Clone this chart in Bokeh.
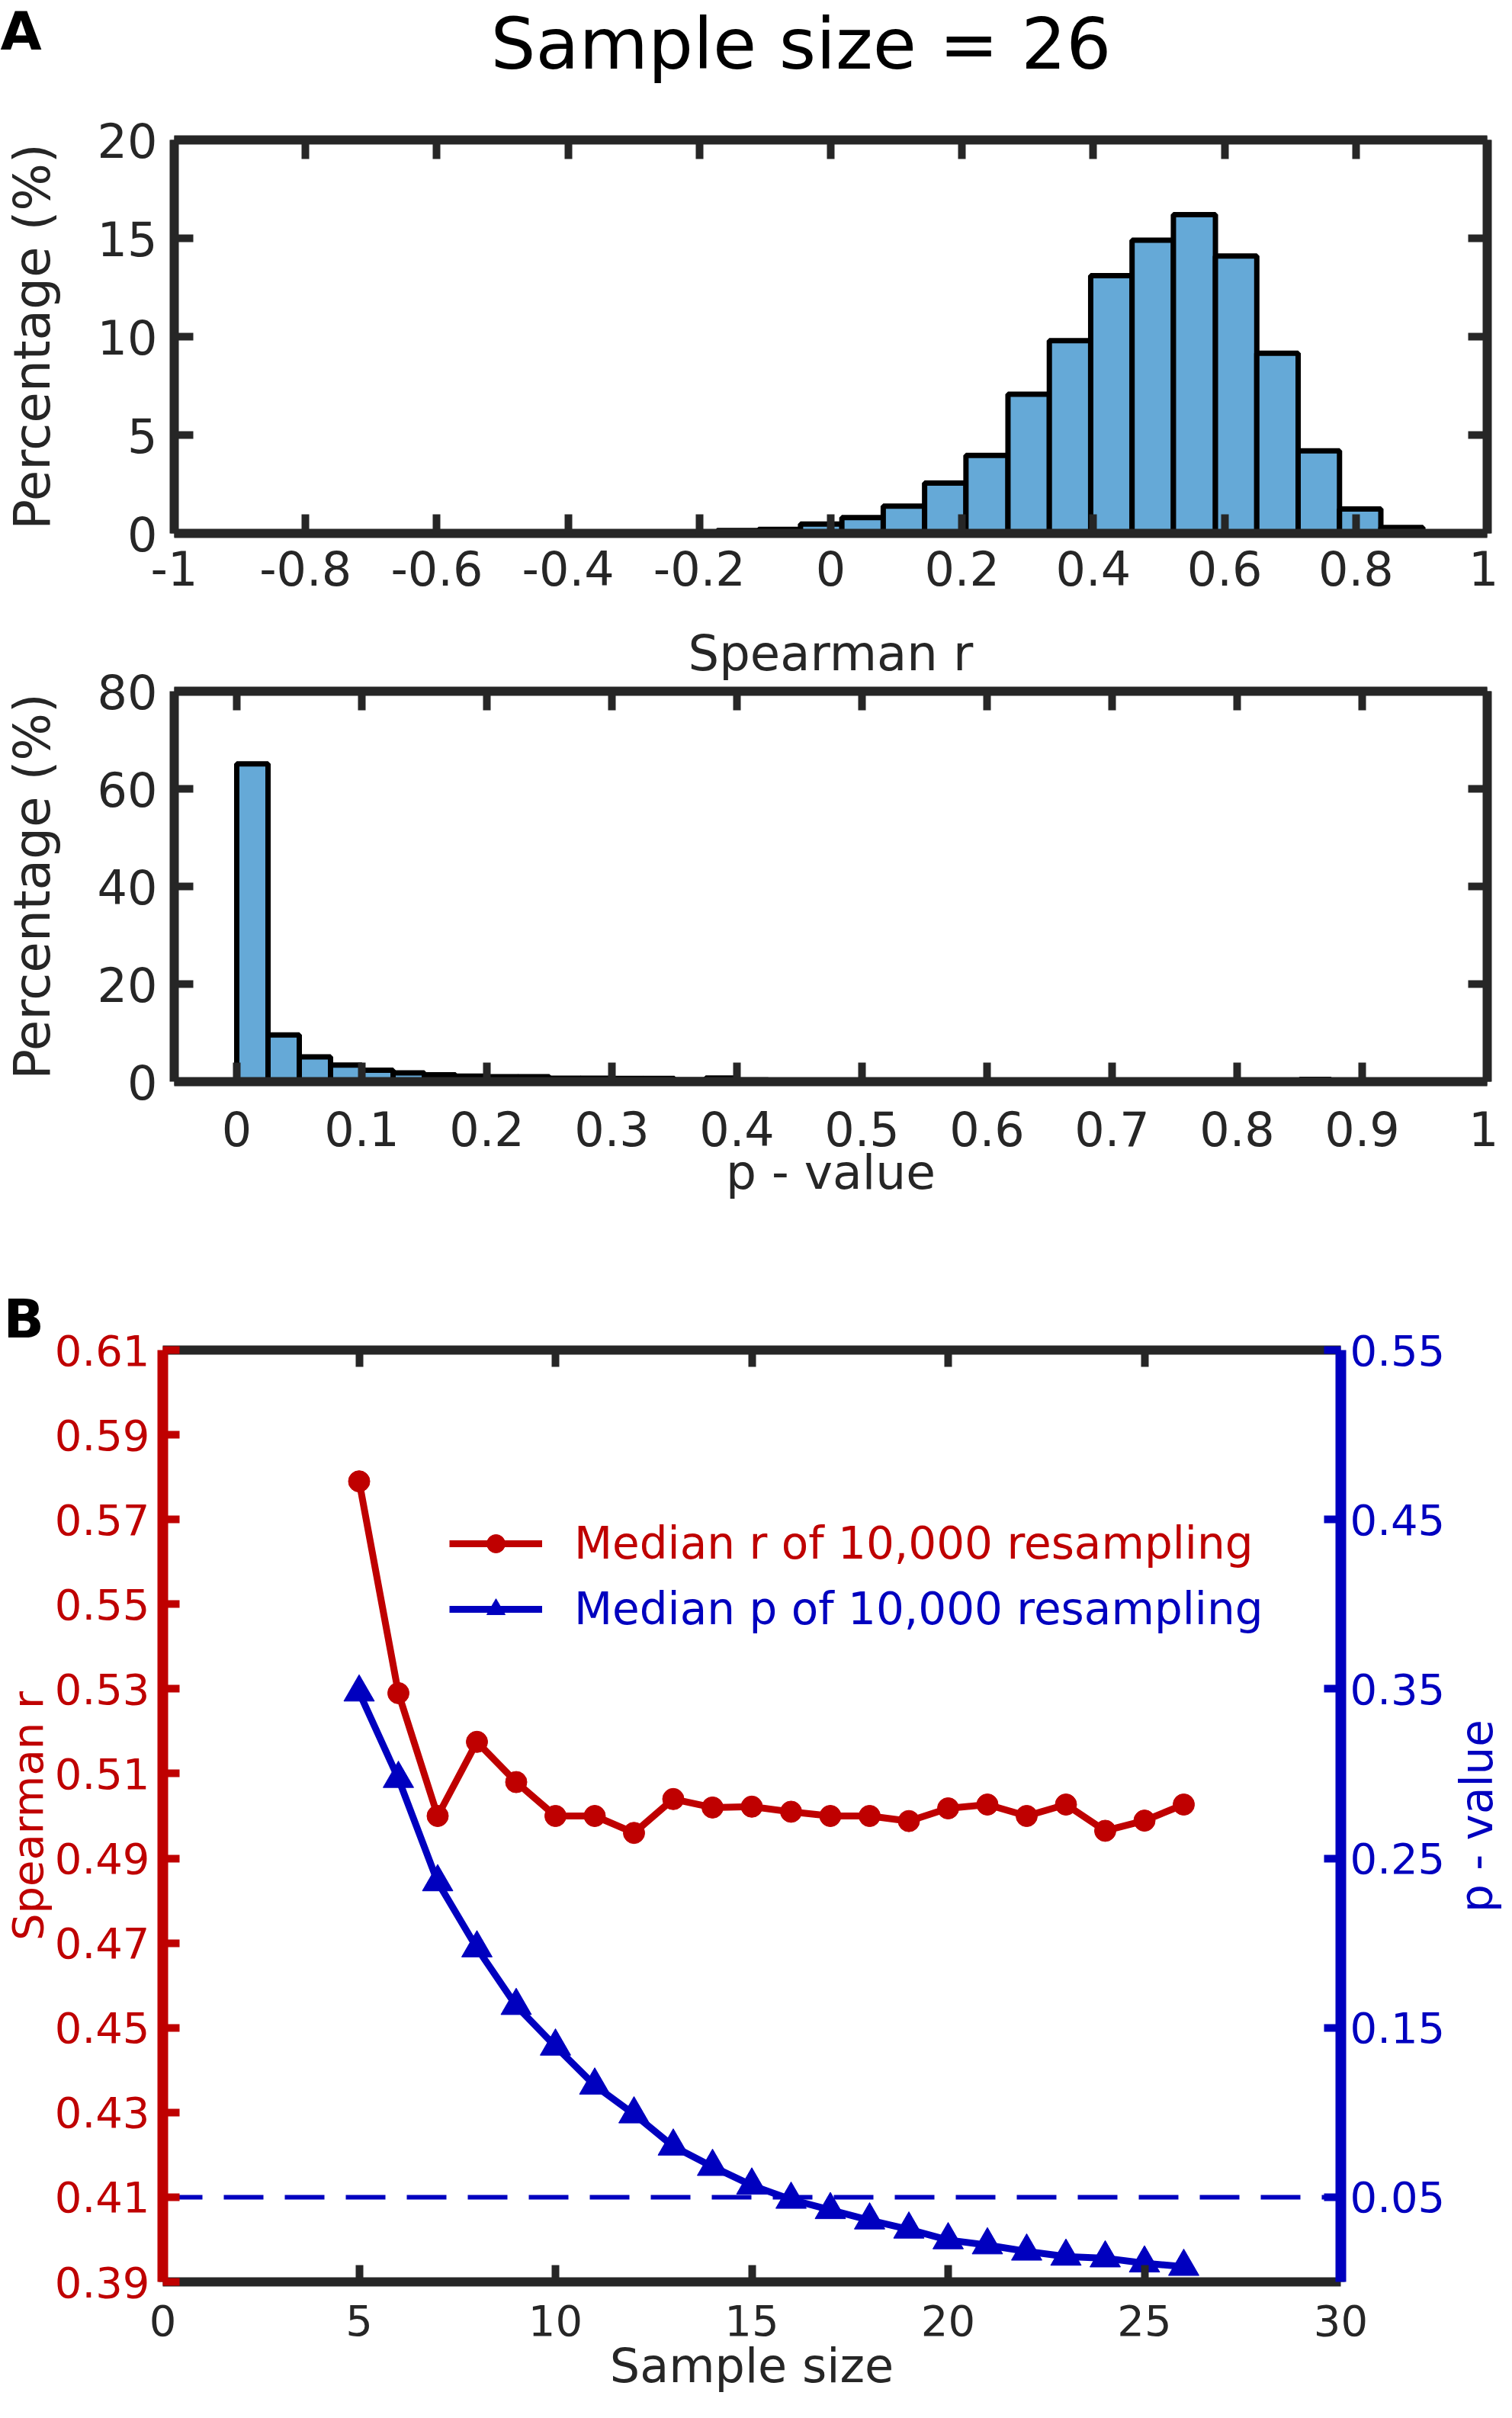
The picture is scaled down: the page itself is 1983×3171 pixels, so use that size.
import math
from bokeh.plotting import figure
from bokeh.models import Range1d, LinearAxis, FixedTicker, Label, Legend, LegendItem, Plot
from bokeh.layouts import column, row
from bokeh.embed import file_html
from bokeh.resources import INLINE

FONT = "DejaVu Sans"
DARK = "#262626"
RED = "#BF0000"
BLUE = "#0000BF"
BAR = "#65A9D7"
NOALIGN = {"frame_align": False} if "frame_align" in Plot.properties() else {}

# ---------------- data ----------------
title_text = "Sample size = 26"
r_edges = [-0.173, -0.110, -0.046, 0.017, 0.080, 0.143, 0.206, 0.270, 0.333,
           0.396, 0.459, 0.522, 0.586, 0.649, 0.712, 0.775, 0.838, 0.902]
r_pct = [0.15, 0.2, 0.47, 0.8, 1.39, 2.56, 3.96, 7.07, 9.8, 13.1, 14.9, 16.2,
         14.1, 9.16, 4.2, 1.24, 0.3]

p_bin_width = 0.025
p_pct = [65.1, 9.56, 5.07, 3.4, 2.35, 1.78, 1.4, 1.15, 1.0, 1.0, 0.7, 0.7,
         0.68, 0.68, 0.4, 0.75, 0.35, 0.3, 0.25, 0.25, 0.2, 0.2, 0.18, 0.18,
         0.15, 0.15, 0.15, 0.13, 0.13, 0.12, 0.12, 0.12, 0.1, 0.1, 0.45, 0.1,
         0.1, 0.08, 0.08, 0.08]
p_edges = [round(i * p_bin_width, 4) for i in range(len(p_pct) + 1)]

sample_size = [5, 6, 7, 8, 9, 10, 11, 12, 13, 14, 15, 16, 17, 18, 19, 20,
               21, 22, 23, 24, 25, 26]
median_r = [0.579, 0.529, 0.500, 0.5175, 0.508, 0.500, 0.500, 0.496, 0.504,
            0.502, 0.5022, 0.501, 0.500, 0.500, 0.4988, 0.5018, 0.5027, 0.500,
            0.5027, 0.4965, 0.4989, 0.5027]
median_p = [0.348, 0.297, 0.236, 0.197, 0.163, 0.139, 0.116, 0.099, 0.080,
            0.068, 0.057, 0.0486, 0.0425, 0.0364, 0.031, 0.0247, 0.0217,
            0.018, 0.015, 0.014, 0.011, 0.009]
alpha_level = 0.05

x1_ticks = [-1, -0.8, -0.6, -0.4, -0.2, 0, 0.2, 0.4, 0.6, 0.8, 1]
y1_ticks = [0, 5, 10, 15, 20]
x2_ticks = [0, 0.1, 0.2, 0.3, 0.4, 0.5, 0.6, 0.7, 0.8, 0.9, 1]
y2_ticks = [0, 20, 40, 60, 80]
xb_ticks = [0, 5, 10, 15, 20, 25, 30]
xb_top_ticks = [5, 10, 15, 20, 25]
rb_ticks = [0.39, 0.41, 0.43, 0.45, 0.47, 0.49, 0.51, 0.53, 0.55, 0.57, 0.59, 0.61]
pb_ticks = [0.05, 0.15, 0.25, 0.35, 0.45, 0.55]


def fmt(v):
    s = ("%.2f" % v).rstrip("0").rstrip(".")
    return "0" if s in ("-0", "") else s


def style_axis(ax, ticks, color, tick_len, tick_w, line_w, size, standoff, labels=True):
    ax.ticker = FixedTicker(ticks=ticks)
    ax.axis_line_color = color
    ax.axis_line_width = line_w
    ax.major_tick_line_color = color
    ax.major_tick_line_width = tick_w
    ax.major_tick_in = tick_len
    ax.major_tick_out = 0
    ax.minor_tick_line_color = None
    ax.major_label_text_font = FONT
    ax.major_label_text_color = color
    if labels:
        ax.major_label_text_font_size = size
        ax.major_label_standoff = standoff
        ax.major_label_overrides = {t: fmt(t) for t in ticks}
    else:
        ax.major_label_text_font_size = "10px"
        ax.major_label_standoff = 0
        ax.major_label_overrides = {t: "" for t in ticks}
    ax.axis_label_text_font = FONT
    ax.axis_label_text_font_style = "normal"


def base_fig(**kw):
    f = figure(output_backend="svg", toolbar_location=None, **NOALIGN, **kw)
    f.xgrid.visible = False
    f.ygrid.visible = False
    f.outline_line_color = None
    f.background_fill_color = "white"
    return f


def text_fig(w, h):
    f = figure(output_backend="svg", toolbar_location=None, frame_width=w, frame_height=h,
               min_border=0, x_range=Range1d(0, w), y_range=Range1d(0, h),
               x_axis_location=None, y_axis_location=None, **NOALIGN)
    f.xgrid.visible = False
    f.ygrid.visible = False
    f.outline_line_color = None
    return f


# ---------------- header of panel A ----------------
h0 = text_fig(1965, 142)
h0.add_layout(Label(x=643, y=85, text=title_text, text_font=FONT, text_font_size="93px",
                    text_color="black", text_align="left", text_baseline="alphabetic"))
h0.add_layout(Label(x=0, y=102, text="A", text_font=FONT, text_font_size="70px",
                    text_font_style="bold", text_color="black", text_align="left",
                    text_baseline="alphabetic"))

# ---------------- panel A, histogram of r ----------------
f1 = base_fig(frame_width=1722, frame_height=516, min_border_left=228,
              min_border_right=15, min_border_top=41, min_border_bottom=94,
              x_range=Range1d(-1, 1), y_range=Range1d(0, 20))
f1.quad(left=r_edges[:-1], right=r_edges[1:], bottom=0, top=r_pct,
        fill_color=BAR, line_color="black", line_width=7)
style_axis(f1.xaxis[0], x1_ticks, DARK, 25, 10, 12, "62px", 22)
style_axis(f1.yaxis[0], y1_ticks, DARK, 25, 10, 12, "62px", 22)
f1.yaxis[0].axis_label = "Percentage (%)"
f1.yaxis[0].axis_label_text_font_size = "66px"
f1.yaxis[0].axis_label_text_color = DARK
f1.yaxis[0].axis_label_standoff = 44
ax = LinearAxis(); style_axis(ax, x1_ticks, DARK, 25, 10, 12, "0px", 0, labels=False)
f1.add_layout(ax, "above")
ax = LinearAxis(); style_axis(ax, y1_ticks, DARK, 25, 10, 12, "0px", 0, labels=False)
f1.add_layout(ax, "right")

# ---------------- panel A, histogram of p ----------------
f2 = base_fig(frame_width=1722, frame_height=512, min_border_left=228,
              min_border_right=15, min_border_top=113, min_border_bottom=224,
              x_range=Range1d(-0.05, 1), y_range=Range1d(0, 80))
# the x-axis title of the histogram above sits in this figure's top margin
f2.title.text = "Spearman r"
f2.title.align = "center"
f2.title.standoff = 25
f2.title.text_font = FONT
f2.title.text_font_size = "64px"
f2.title.text_font_style = "normal"
f2.title.text_color = DARK
f2.quad(left=p_edges[:-1], right=p_edges[1:], bottom=0, top=p_pct,
        fill_color=BAR, line_color="black", line_width=7)
style_axis(f2.xaxis[0], x2_ticks, DARK, 25, 10, 12, "62px", 38)
style_axis(f2.yaxis[0], y2_ticks, DARK, 25, 10, 12, "62px", 22)
f2.xaxis[0].axis_label = "p - value"
f2.xaxis[0].axis_label_text_font_size = "63px"
f2.xaxis[0].axis_label_text_color = DARK
f2.xaxis[0].axis_label_standoff = -5
f2.yaxis[0].axis_label = "Percentage (%)"
f2.yaxis[0].axis_label_text_font_size = "66px"
f2.yaxis[0].axis_label_text_color = DARK
f2.yaxis[0].axis_label_standoff = 44
ax = LinearAxis(); style_axis(ax, x2_ticks, DARK, 25, 10, 12, "0px", 0, labels=False)
f2.add_layout(ax, "above")
ax = LinearAxis(); style_axis(ax, y2_ticks, DARK, 25, 10, 12, "0px", 0, labels=False)
f2.add_layout(ax, "right")

# ---------------- panel B ----------------
f3 = base_fig(frame_width=1545, frame_height=1222, min_border_left=209,
              min_border_right=138, min_border_top=128, min_border_bottom=168,
              x_range=Range1d(0, 30), y_range=Range1d(0.39, 0.61))
f3.title.text = "B"
f3.title.align = "left"
f3.title.offset = -209
f3.title.standoff = 0
f3.title.text_font = FONT
f3.title.text_font_size = "70px"
f3.title.text_font_style = "bold"
f3.title.text_color = "black"

f3.extra_y_ranges = {"p": Range1d(0, 0.55)}
xmin, xmax = f3.x_range.start, f3.x_range.end
f3.line(x=[xmin, xmax], y=[alpha_level, alpha_level], y_range_name="p",
        line_color=BLUE, line_width=6, line_dash="52 28")
lr = f3.line(x=sample_size, y=median_r, line_color=RED, line_width=9)
sr = f3.scatter(x=sample_size, y=median_r, marker="circle", size=28,
                fill_color=RED, line_color=RED)
lp = f3.line(x=sample_size, y=median_p, y_range_name="p", line_color=BLUE, line_width=9)
sp = f3.scatter(x=sample_size, y=median_p, y_range_name="p", marker="triangle", size=40,
                fill_color=BLUE, line_color=BLUE)

style_axis(f3.xaxis[0], xb_ticks, DARK, 22, 10, 12, "56px", 30)
f3.xaxis[0].axis_label = "Sample size"
f3.xaxis[0].axis_label_text_font_size = "62px"
f3.xaxis[0].axis_label_text_color = DARK
f3.xaxis[0].axis_label_standoff = 0
style_axis(f3.yaxis[0], rb_ticks, RED, 22, 10, 14, "56px", 17)
f3.yaxis[0].axis_label = "Spearman r"
f3.yaxis[0].axis_label_text_font_size = "56px"
f3.yaxis[0].axis_label_text_color = RED
f3.yaxis[0].axis_label_standoff = 0
ax = LinearAxis(); style_axis(ax, xb_top_ticks, DARK, 22, 10, 12, "0px", 0, labels=False)
f3.add_layout(ax, "above")
ax = LinearAxis(y_range_name="p"); style_axis(ax, pb_ticks, BLUE, 22, 10, 14, "56px", 12)
f3.add_layout(ax, "right")

for items, color, yloc in (([LegendItem(label="Median r of 10,000 resampling", renderers=[lr, sr])], RED, 934),
                           ([LegendItem(label="Median p of 10,000 resampling", renderers=[lp, sp])], BLUE, 848)):
    leg = Legend(items=items, location=(376, yloc), glyph_width=122, glyph_height=60,
                 label_height=60, label_standoff=42, padding=0, margin=0, spacing=0,
                 label_text_font=FONT, label_text_font_size="58px", label_text_color=color,
                 background_fill_alpha=0, border_line_color=None)
    f3.add_layout(leg)

# right-hand axis title of panel B, read bottom to top
side = text_fig(73, 1518)
side.add_layout(Label(x=38, y=779, text="p - value", text_font=FONT, text_font_size="58px",
                      text_color=BLUE, angle=math.pi / 2, text_align="center",
                      text_baseline="middle"))

page = column(h0, f1, f2, row(f3, side, spacing=0), spacing=0)
open("out.html", "w").write(file_html(page, INLINE))
